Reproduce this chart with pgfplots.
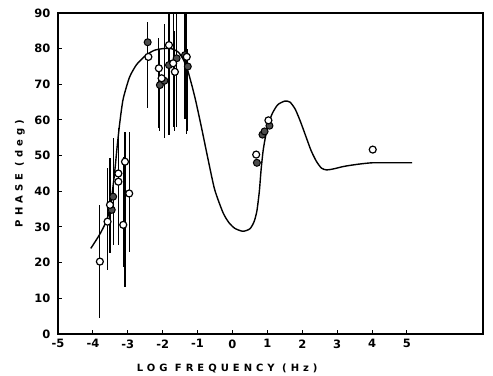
\documentclass[border=0pt]{standalone}
\usepackage{fontspec}
\setmainfont{DejaVu Sans}
\newfontfamily\lab[LetterSpace=40]{DejaVu Sans}
\usepackage{pgfplots}
\pgfplotsset{compat=1.18}
\usepackage{pgfplotstable}

% open circles: x y err+ err-
\pgfplotstableread{
x y ep em
-3.80 20.3 15.9 15.8
-3.58 31.5 15.0 13.5
-3.51 36.2 13.1 13.5
-3.27 45.0 12.7 20.0
-3.27 42.7 0 0
-3.08 48.3 8.4 35.0
-3.13 30.6 19.1 11.7
-2.96 39.4 17.3 16.4
-2.41 77.7 0 0
-2.11 74.5 8.4 16.8
-2.03 71.7 0 0
-1.82 81.0 19.0 25.2
-1.70 75.9 19.0 18.0
-1.65 73.5 11.5 16.5
-1.31 77.7 22.3 21.7
0.68 50.3 0 0
1.03 59.9 0 0
4.02 51.7 0 0
}\opendata

% filled circles
\pgfplotstableread{
x y ep em
-3.42 38.5 16.5 13.5
-3.46 34.8 0 0
-2.43 81.8 5.8 18.5
-2.08 69.8 10.2 12.8
-1.95 71.0 16.0 16.0
-1.82 75.4 20.0 15.4
-1.60 77.3 20.0 19.3
-1.36 78.2 20.0 17.8
-1.28 75.0 5.0 18.0
0.70 48.0 0 0
0.86 55.9 0 0
0.92 56.8 0 0
1.06 58.4 0 0
}\filleddata

\begin{document}
\begin{tikzpicture}
\begin{axis}[
  width=425pt, height=321pt, scale only axis,
  xmin=-5, xmax=7.18, ymin=0, ymax=90,
  xtick={-5,-4,-3,-2,-1,0,1,2,3,4,5},
  xticklabels={-5,-4,-3,-2,-1,0,1,2,3,4,5},
  ytick={0,10,20,30,40,50,60,70,80,90},
  yticklabels={0,10,20,30,40,50,60,70,80,90},
  xtick pos=bottom, ytick pos=left,
  tick align=inside,
  major tick length=4pt,
  tick style={black, line width=1pt},
  axis line style={line width=1.6pt},
  ticklabel style={font=\bfseries\fontsize{11.5}{12}\selectfont},
  xticklabel style={yshift=-2pt},
  yticklabel style={xshift=-4pt},
  xlabel={\lab\bfseries LOG FREQUENCY (Hz)},
  ylabel={\lab\bfseries PHASE (deg)},
  label style={font=\fontsize{10}{12}\selectfont},
  xlabel style={at={(axis description cs:0.398,-0.106)}, anchor=center},
  ylabel style={at={(axis description cs:-0.0894,0.5)}, anchor=center},
  clip=true,
]
\addplot[black, line width=1.4pt, smooth, tension=0.4] coordinates {
(-4.06,24) (-3.8,28) (-3.6,32) (-3.48,37) (-3.38,45) (-3.3,53) (-3.22,60)
(-3.13,66) (-2.95,72) (-2.75,75.5) (-2.5,78) (-2.25,79.5) (-2.0,80) (-1.75,80)
(-1.55,79) (-1.4,76.8) (-1.27,73.5) (-1.08,66.5) (-0.89,58) (-0.7,49) (-0.51,40.5)
(-0.27,34) (-0.1,31.2) (0.07,29.6) (0.3,28.8) (0.5,29.5) (0.62,31.5)
(0.7,34.5) (0.77,40) (0.82,46) (0.88,51.5) (0.95,55.5) (1.03,59) (1.15,62)
(1.3,64.3) (1.5,65.3) (1.65,65) (1.8,63) (1.95,59.5) (2.1,55.5) (2.25,51.5)
(2.4,48.5) (2.55,46.5) (2.7,46) (2.9,46.3) (3.2,47) (3.6,47.6) (4.0,48)
(4.5,48) (5.15,48)
};
\addplot[only marks, mark=*, mark size=3.5pt, mark options={fill=black!70, draw=black, line width=1pt},
  error bars/.cd, y dir=both, y explicit, error mark=none,
  error bar style={line width=1.2pt, black}]
  table[x=x, y=y, y error plus=ep, y error minus=em] {\filleddata};
\addplot[only marks, mark=*, mark size=3.5pt, mark options={fill=white, draw=black, line width=1.2pt},
  error bars/.cd, y dir=both, y explicit, error mark=none,
  error bar style={line width=1.2pt, black}]
  table[x=x, y=y, y error plus=ep, y error minus=em] {\opendata};
\end{axis}
\path (current axis.south west) ++(-58pt,-42pt);
\path (current axis.north east) ++(10pt,13pt);
\end{tikzpicture}
\end{document}
